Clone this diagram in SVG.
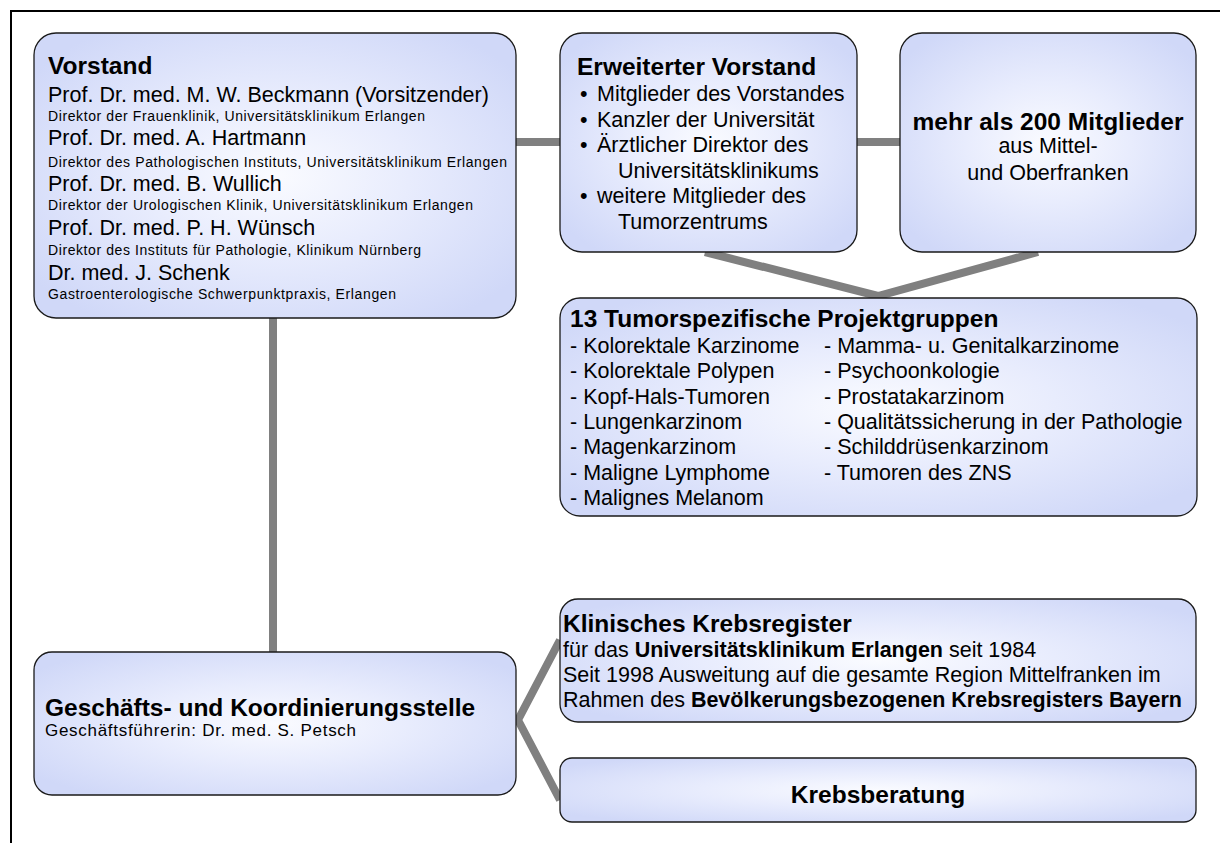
<svg xmlns="http://www.w3.org/2000/svg" width="1220" height="843" viewBox="0 0 1220 843">
<defs>
<radialGradient id="g" cx="0.5" cy="0.5" r="0.62">
<stop offset="0" stop-color="#fafbff"/>
<stop offset="0.45" stop-color="#e8ecfd"/>
<stop offset="1" stop-color="#d0d8f8"/>
</radialGradient>
<style>
.box{fill:url(#g);stroke:#1a1a1a;stroke-width:1.3}
.con{stroke:#808080;stroke-width:8;fill:none;stroke-linecap:butt}
text{font-family:"Liberation Sans",Arial,sans-serif;fill:#000}
.t{font-size:24.5px;font-weight:bold}
.b{font-size:21.5px}
.s{font-size:14px}
.bb{font-weight:bold}
</style>
</defs>
<rect width="1220" height="843" fill="#fff"/>
<path d="M11,843 V11 H1220" fill="none" stroke="#000" stroke-width="2"/>
<g id="connectors">
<line class="con" x1="516" y1="142" x2="560" y2="142"/>
<line class="con" x1="857" y1="142" x2="900" y2="142"/>
<polyline class="con" points="705,252 878,296 1038,252"/>
<line class="con" x1="273" y1="318" x2="273" y2="652"/>
<polyline class="con" points="560,640 518,720 560,800"/>
</g>
<g id="vorstand">
<rect class="box" x="34" y="33" width="482" height="285" rx="22"/>
<text class="t" x="48" y="74">Vorstand</text>
<text class="b" x="48" y="102">Prof. Dr. med. M. W. Beckmann (Vorsitzender)</text>
<text class="s" x="48" y="121" textLength="377" lengthAdjust="spacing">Direktor der Frauenklinik, Universitätsklinikum Erlangen</text>
<text class="b" x="48" y="145">Prof. Dr. med. A. Hartmann</text>
<text class="s" x="48" y="167" textLength="459" lengthAdjust="spacing">Direktor des Pathologischen Instituts, Universitätsklinikum Erlangen</text>
<text class="b" x="48" y="191">Prof. Dr. med. B. Wullich</text>
<text class="s" x="48" y="210" textLength="425" lengthAdjust="spacing">Direktor der Urologischen Klinik, Universitätsklinikum Erlangen</text>
<text class="b" x="48" y="235">Prof. Dr. med. P. H. Wünsch</text>
<text class="s" x="48" y="255" textLength="373" lengthAdjust="spacing">Direktor des Instituts für Pathologie, Klinikum Nürnberg</text>
<text class="b" x="48" y="280">Dr. med. J. Schenk</text>
<text class="s" x="48" y="299" textLength="348" lengthAdjust="spacing">Gastroenterologische Schwerpunktpraxis, Erlangen</text>
</g>
<g id="erweiterter-vorstand">
<rect class="box" x="560" y="33" width="297" height="219" rx="22"/>
<text class="t" x="577" y="75">Erweiterter Vorstand</text>
<text class="b" x="580" y="101">•</text>
<text class="b" x="597" y="101">Mitglieder des Vorstandes</text>
<text class="b" x="580" y="126.5">•</text>
<text class="b" x="597" y="126.5">Kanzler der Universität</text>
<text class="b" x="580" y="152">•</text>
<text class="b" x="597" y="152">Ärztlicher Direktor des</text>
<text class="b" x="618" y="177.5">Universitätsklinikums</text>
<text class="b" x="580" y="203">•</text>
<text class="b" x="597" y="203">weitere Mitglieder des</text>
<text class="b" x="618" y="228.5">Tumorzentrums</text>
</g>
<g id="mitglieder">
<rect class="box" x="900" y="33" width="296" height="219" rx="22"/>
<text class="t" x="1048" y="130" text-anchor="middle">mehr als 200 Mitglieder</text>
<text class="b" x="1048" y="153" text-anchor="middle">aus Mittel-</text>
<text class="b" x="1048" y="180" text-anchor="middle">und Oberfranken</text>
</g>
<g id="projektgruppen">
<rect class="box" x="560" y="298" width="637" height="218" rx="20"/>
<text class="t" x="570" y="327">13 Tumorspezifische Projektgruppen</text>
<text class="b" x="570" y="353">- Kolorektale Karzinome</text>
<text class="b" x="570" y="378.3">- Kolorektale Polypen</text>
<text class="b" x="570" y="403.6">- Kopf-Hals-Tumoren</text>
<text class="b" x="570" y="428.9">- Lungenkarzinom</text>
<text class="b" x="570" y="454.2">- Magenkarzinom</text>
<text class="b" x="570" y="479.5">- Maligne Lymphome</text>
<text class="b" x="570" y="504.8">- Malignes Melanom</text>
<text class="b" x="824" y="353">- Mamma- u. Genitalkarzinome</text>
<text class="b" x="824" y="378.3">- Psychoonkologie</text>
<text class="b" x="824" y="403.6">- Prostatakarzinom</text>
<text class="b" x="824" y="428.9">- Qualitätssicherung in der Pathologie</text>
<text class="b" x="824" y="454.2">- Schilddrüsenkarzinom</text>
<text class="b" x="824" y="479.5">- Tumoren des ZNS</text>
</g>
<g id="geschaeftsstelle">
<rect class="box" x="34" y="652" width="482" height="143" rx="18"/>
<text class="t" x="45" y="716">Geschäfts- und Koordinierungsstelle</text>
<text x="45" y="736" font-size="17" textLength="311" lengthAdjust="spacing">Geschäftsführerin: Dr. med. S. Petsch</text>
</g>
<g id="krebsregister">
<rect class="box" x="560" y="599" width="636" height="123" rx="18"/>
<text class="t" x="563" y="632">Klinisches Krebsregister</text>
<text class="b" x="563" y="657">für das <tspan class="bb">Universitätsklinikum Erlangen</tspan> seit 1984</text>
<text class="b" x="563" y="682">Seit 1998 Ausweitung auf die gesamte Region Mittelfranken im</text>
<text class="b" x="563" y="707">Rahmen des <tspan class="bb">Bevölkerungsbezogenen Krebsregisters Bayern</tspan></text>
</g>
<g id="krebsberatung">
<rect class="box" x="560" y="758" width="636" height="64" rx="12"/>
<text class="t" x="878" y="803" text-anchor="middle">Krebsberatung</text>
</g>
</svg>
